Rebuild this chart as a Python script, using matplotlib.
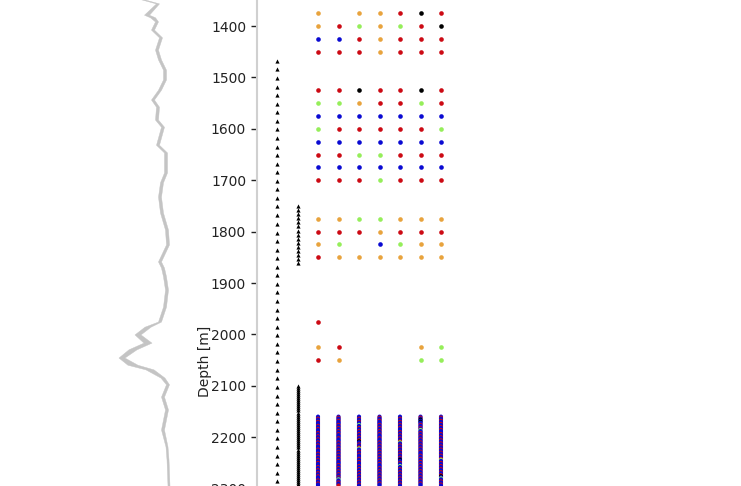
import matplotlib.pyplot as plt

# 깊이 범위 (그림 위/아래 끝)
depth_top = 1349.4
depth_bottom = 2400

# 왼쪽 회색 로그 곡선 (최소/최대 값)
log_depth = [1349, 1357, 1379, 1384, 1392, 1408, 1423, 1447, 1466, 1486, 1505, 1525, 1544, 1558,
             1583, 1597, 1632, 1647, 1686, 1705, 1733, 1764, 1797, 1826, 1859, 1871, 1888, 1914,
             1947, 1976, 1986, 2001, 2017, 2030, 2046, 2060, 2069, 2085, 2098, 2122, 2147, 2186,
             2219, 2244, 2295]
log_min = [141.5, 156.5, 144.5, 150.5, 155.5, 151.5, 159.5, 155.5, 158.5, 163.5, 163.5, 158.5,
           151.5, 156.5, 155.5, 161.5, 156.5, 164.5, 164.5, 160.5, 158.5, 160.5, 165.5, 166.5,
           158.5, 161.5, 163.5, 165.5, 163.5, 158.5, 145, 135, 144, 129, 119, 128, 146, 161,
           166.5, 161.5, 165.5, 161.5, 166, 167, 168]
log_max = [144.5, 159.5, 149.5, 155.5, 158.5, 154.5, 162.5, 158.5, 161.5, 166.5, 166.5, 161.5,
           154.5, 159.5, 158.5, 164.5, 159.5, 167.5, 167.5, 163.5, 161.5, 163.5, 168.5, 169.5,
           161.5, 164.5, 166.5, 168.5, 166.5, 161.5, 151, 141, 152, 137, 125, 138, 154, 165,
           169.5, 164.5, 168.5, 164.5, 168, 169, 170]

# 삼각형 (첫번째 열)
tri1_depth = [1468, 1484, 1501, 1518, 1534, 1551, 1568, 1584, 1601, 1618, 1635, 1651, 1668,
              1685, 1701, 1718, 1735, 1751, 1768, 1785, 1802, 1818, 1835, 1852, 1868, 1885,
              1902, 1918, 1935, 1952, 1969, 1985, 2002, 2019, 2035, 2052, 2069, 2085, 2102,
              2119, 2136, 2152, 2169, 2186, 2202, 2219, 2236, 2252, 2269, 2286]
# 삼각형 (두번째 열)
tri2_depth = [1750, 1758, 1766, 1774, 1782, 1790, 1798, 1806, 1814, 1822, 1830, 1838, 1846,
              1854, 1862,
              2100, 2104, 2108, 2112, 2116, 2120, 2124, 2128, 2132, 2136, 2140, 2144, 2148,
              2152, 2156, 2160, 2164, 2168, 2172, 2176, 2180, 2184, 2188, 2192, 2196, 2200,
              2204, 2208, 2212, 2216, 2220, 2224, 2228, 2232, 2236, 2240, 2244, 2248, 2252,
              2256, 2260, 2264, 2268, 2272, 2276, 2280, 2284, 2288, 2292]

# 점 (행 깊이, 7개 열 색 코드, '-'는 없음)
row_depth = [1375, 1400, 1425, 1450, 1525, 1550, 1575, 1600, 1625, 1650, 1675, 1700,
             1775, 1800, 1825, 1850, 1975, 2025, 2050]
row_codes = ['O-OORKR', 'ORGOGRK', 'BBRORRR', 'RRRORRR', 'RRKRRKR', 'GGORRGR', 'BBBBBBB',
             'GRRRRRG', 'BBBBBBB', 'RRGGRRR', 'BBBBBBB', 'RRRGRRR',
             'OOGGOOO', 'RRRORRR', 'OG-BGOO', 'ROOOOOO', 'R------', 'OR---OG', 'RO---GG']

# 아래쪽 촘촘한 점
dense_depth = [2160, 2162, 2164, 2166, 2168, 2170, 2172, 2174, 2176, 2178, 2180, 2182, 2184,
               2186, 2188, 2190, 2192, 2194, 2196, 2198, 2200, 2202, 2204, 2206, 2208, 2210,
               2212, 2214, 2216, 2218, 2220, 2222, 2224, 2226, 2228, 2230, 2232, 2234, 2236,
               2238, 2240, 2242, 2244, 2246, 2248, 2250, 2252, 2254, 2256, 2258, 2260, 2262,
               2264, 2266, 2268, 2270, 2272, 2274, 2276, 2278, 2280, 2282, 2284, 2286, 2288,
               2290, 2292, 2294]
dense_codes = [
    'BBRBBRBBBR' 'BBRBBBRBBR' 'BBRBBRBBRB' 'BBRBBBRBBR' 'BBRBBRBBBR' 'BBRBBRBBRB' 'BBRBBRBB',
    'BRBBRBBBRB' 'BRBBRBBRBB' 'BRBBBRBBRB' 'BRBBRBBRBB' 'RBBRBBBRBB' 'RBBRBBRBBR' 'BGBBRBBR',
    'BBRBBRBBGB' 'BRBBRBBRBB' 'RBBRKBBRBB' 'RGBBRBBRBB' 'BRBBRBBBRB' 'BRBBRBBRBB' 'RBBRBBRB',
    'BRBBRBBBRB' 'BRBBRBBRBB' 'BRBBBRBBRB' 'BRBBRBBRBB' 'RBBRBBRBBB' 'RBBRBBRBBR' 'BBRBBRBB',
    'BBRBBRBBRB' 'BRBBBRBBRB' 'BRBBRGBBRB' 'BRBBRBBRBB' 'RBKBBRBBGB' 'BRBBRBBRBB' 'RBBRBBRB',
    'BRBKBKBBRB' 'BRBGBBRBBR' 'BBRBBRBBRB' 'BRBBRBBBRB' 'BRBBRBBRBB' 'RBBRBBRBBR' 'BBRBBRBB',
    'BRBBRBBRBB' 'RBBRBBBRBB' 'RBBRBBRBBR' 'BBRBBRBBRB' 'BRGBBRBBRB' 'BRBBRBBRKB' 'GBBRBBRB',
]

colors = {'O': '#e8a33d', 'R': '#cc0a14', 'G': '#95ee5a', 'B': '#0a0ad2', 'K': '#000000'}

W, H = 741, 486
fig = plt.figure(figsize=(W / 100, H / 100), dpi=100)

# 축 위치 (픽셀 기준)
px_per_m = 0.514
ax_h = (depth_bottom - depth_top) * px_per_m
ax_bottom = (H - ax_h) / H

# 왼쪽 로그 곡선 축
ax_log = fig.add_axes([100 / W, ax_bottom, 110 / W, ax_h / H])
ax_log.fill_betweenx(log_depth, log_min, log_max, color='#c4c4c4', lw=0.3)
ax_log.set_xlim(100, 210)
ax_log.set_ylim(depth_bottom, depth_top)
ax_log.axis('off')

# 메인 축
left = 256.5
ax = fig.add_axes([left / W, ax_bottom, (W - left) / W, ax_h / H])
ax.scatter([0] * len(tri1_depth), tri1_depth, marker='^', s=9, color='black', linewidths=0)
ax.scatter([1] * len(tri2_depth), tri2_depth, marker='^', s=9, color='black', linewidths=0)

for d, code in zip(row_depth, row_codes):
    for j, c in enumerate(code):
        if c != '-':
            ax.scatter(j + 2, d, s=11, color=colors[c], linewidths=0)

for j, code in enumerate(dense_codes):
    ax.scatter([j + 2] * len(dense_depth), dense_depth, s=9,
               c=[colors[c] for c in code[:len(dense_depth)]], linewidths=0)

ax.set_xlim(-1, -1 + (W - left) / 20.5)
ax.set_ylim(depth_bottom, depth_top)
ax.set_yticks([1400, 1500, 1600, 1700, 1800, 1900, 2000, 2100, 2200, 2300])
ax.set_xticks([])
for s in ['top', 'right', 'bottom']:
    ax.spines[s].set_visible(False)
ax.spines['left'].set_color('#d0d0d0')
ax.spines['left'].set_linewidth(1.5)
ax.tick_params(axis='y', labelsize=10, colors='#222222', length=4, width=1)
ax.set_ylabel('Depth [m]', fontsize=10, color='#222222')
ax.yaxis.set_label_coords(-0.091, (H - 361 - ax_bottom * H) / ax_h)

fig.savefig('out.png', dpi=100)
